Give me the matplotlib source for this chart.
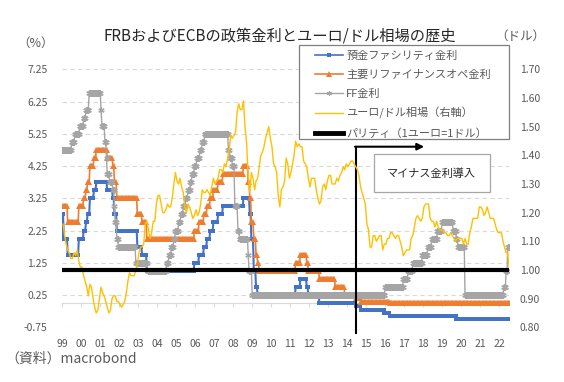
import numpy as np
import pandas as pd
import matplotlib
matplotlib.use("Agg")
import matplotlib.pyplot as plt
from matplotlib.lines import Line2D
from matplotlib.patches import Rectangle

plt.rcParams['font.family'] = ['Noto Sans CJK JP', 'DejaVu Sans']

# ECB deposit facility rate (%), change dates
dep_dates = ['1999-01-01', '1999-01-04', '1999-01-22', '1999-04-09', '1999-11-05',
             '2000-02-04', '2000-03-17', '2000-04-28', '2000-06-09', '2000-09-01', '2000-10-06',
             '2001-05-11', '2001-08-31', '2001-09-18', '2001-11-09', '2002-12-06',
             '2003-03-07', '2003-06-06', '2005-12-06', '2006-03-08', '2006-06-15',
             '2006-08-09', '2006-10-11', '2006-12-13', '2007-03-14', '2007-06-13',
             '2008-07-09', '2008-10-08', '2008-10-09', '2008-11-12', '2008-12-10',
             '2009-01-21', '2009-03-11', '2009-04-08', '2011-04-13', '2011-07-13',
             '2011-11-09', '2011-12-14', '2012-07-11', '2014-06-11', '2014-09-10',
             '2015-12-09', '2016-03-16', '2019-09-18']
dep_rates = [2.00, 2.75, 2.00, 1.50, 2.00,
             2.25, 2.50, 2.75, 3.25, 3.50, 3.75,
             3.50, 3.25, 2.75, 2.25, 1.75,
             1.50, 1.00, 1.25, 1.50, 1.75,
             2.00, 2.25, 2.50, 2.75, 3.00,
             3.25, 2.75, 3.25, 2.75, 2.00,
             1.00, 0.50, 0.25, 0.50, 0.75,
             0.50, 0.25, 0.00, -0.10, -0.20,
             -0.30, -0.40, -0.50]

# ECB main refinancing operations rate (%)
mro_dates = ['1999-01-01', '1999-04-09', '1999-11-05',
             '2000-02-04', '2000-03-17', '2000-04-28', '2000-06-09', '2000-09-01', '2000-10-06',
             '2001-05-11', '2001-08-31', '2001-09-18', '2001-11-09', '2002-12-06',
             '2003-03-07', '2003-06-06', '2005-12-06', '2006-03-08', '2006-06-15',
             '2006-08-09', '2006-10-11', '2006-12-13', '2007-03-14', '2007-06-13',
             '2008-07-09', '2008-10-15', '2008-11-12', '2008-12-10', '2009-01-21',
             '2009-03-11', '2009-04-08', '2009-05-13', '2011-04-13', '2011-07-13',
             '2011-11-09', '2011-12-14', '2012-07-11', '2013-05-08', '2013-11-13',
             '2014-06-11', '2014-09-10', '2016-03-16']
mro_rates = [3.00, 2.50, 3.00,
             3.25, 3.50, 3.75, 4.25, 4.50, 4.75,
             4.50, 4.25, 3.75, 3.25, 2.75,
             2.50, 2.00, 2.25, 2.50, 2.75,
             3.00, 3.25, 3.50, 3.75, 4.00,
             4.25, 3.75, 3.25, 2.50, 2.00,
             1.50, 1.25, 1.00, 1.25, 1.50,
             1.25, 1.00, 0.75, 0.50, 0.25,
             0.15, 0.05, 0.00]

# FF target rate, upper bound (%)
ff_dates = ['1999-01-01', '1999-06-30', '1999-08-24', '1999-11-16', '2000-02-02',
            '2000-03-21', '2000-05-16', '2001-01-03', '2001-01-31', '2001-03-20',
            '2001-04-18', '2001-05-15', '2001-06-27', '2001-08-21', '2001-09-17',
            '2001-10-02', '2001-11-06', '2001-12-11', '2002-11-06', '2003-06-25',
            '2004-06-30', '2004-08-10', '2004-09-21', '2004-11-10', '2004-12-14',
            '2005-02-02', '2005-03-22', '2005-05-03', '2005-06-30', '2005-08-09',
            '2005-09-20', '2005-11-01', '2005-12-13', '2006-01-31', '2006-03-28',
            '2006-05-10', '2006-06-29', '2007-09-18', '2007-10-31', '2007-12-11',
            '2008-01-22', '2008-01-30', '2008-03-18', '2008-04-30', '2008-10-08',
            '2008-10-29', '2008-12-16', '2015-12-16', '2016-12-14', '2017-03-15',
            '2017-06-14', '2017-12-13', '2018-03-21', '2018-06-13', '2018-09-26',
            '2018-12-19', '2019-07-31', '2019-09-18', '2019-10-30', '2020-03-03',
            '2020-03-15', '2022-03-16', '2022-05-04', '2022-06-15']
ff_rates = [4.75, 5.00, 5.25, 5.50, 5.75,
            6.00, 6.50, 6.00, 5.50, 5.00,
            4.50, 4.00, 3.75, 3.50, 3.00,
            2.50, 2.00, 1.75, 1.25, 1.00,
            1.25, 1.50, 1.75, 2.00, 2.25,
            2.50, 2.75, 3.00, 3.25, 3.50,
            3.75, 4.00, 4.25, 4.50, 4.75,
            5.00, 5.25, 4.75, 4.50, 4.25,
            3.50, 3.00, 2.25, 2.00, 1.50,
            1.00, 0.25, 0.50, 0.75, 1.00,
            1.25, 1.50, 1.75, 2.00, 2.25,
            2.50, 2.25, 2.00, 1.75, 1.25,
            0.25, 0.50, 1.00, 1.75]

# EUR/USD, monthly (Jan 1999 - Jul 2022)
eurusd = [
    1.16, 1.12, 1.09, 1.07, 1.06, 1.04, 1.04, 1.06, 1.05, 1.07, 1.03, 1.01,
    1.01, 0.98, 0.96, 0.94, 0.91, 0.95, 0.94, 0.90, 0.87, 0.85, 0.86, 0.90,
    0.94, 0.92, 0.91, 0.89, 0.87, 0.85, 0.86, 0.90, 0.91, 0.91, 0.89, 0.89,
    0.88, 0.87, 0.88, 0.89, 0.92, 0.96, 0.99, 0.98, 0.98, 0.98, 1.00, 1.02,
    1.06, 1.08, 1.08, 1.09, 1.16, 1.17, 1.14, 1.11, 1.13, 1.17, 1.17, 1.23,
    1.26, 1.26, 1.23, 1.20, 1.20, 1.21, 1.23, 1.22, 1.22, 1.25, 1.30, 1.34,
    1.31, 1.30, 1.32, 1.29, 1.27, 1.22, 1.20, 1.23, 1.22, 1.20, 1.18, 1.19,
    1.21, 1.19, 1.20, 1.23, 1.28, 1.27, 1.27, 1.28, 1.27, 1.26, 1.29, 1.32,
    1.30, 1.31, 1.32, 1.35, 1.35, 1.34, 1.37, 1.36, 1.39, 1.42, 1.47, 1.46,
    1.47, 1.48, 1.55, 1.58, 1.56, 1.56, 1.59, 1.50, 1.44, 1.33, 1.27, 1.34,
    1.32, 1.28, 1.31, 1.32, 1.36, 1.40, 1.41, 1.43, 1.46, 1.48, 1.50, 1.46,
    1.43, 1.37, 1.36, 1.34, 1.26, 1.22, 1.28, 1.29, 1.31, 1.39, 1.37, 1.32,
    1.34, 1.37, 1.40, 1.45, 1.43, 1.44, 1.43, 1.43, 1.38, 1.37, 1.36, 1.32,
    1.29, 1.32, 1.32, 1.32, 1.28, 1.25, 1.23, 1.24, 1.29, 1.30, 1.28, 1.31,
    1.33, 1.33, 1.30, 1.30, 1.30, 1.32, 1.31, 1.33, 1.34, 1.36, 1.35, 1.37,
    1.36, 1.37, 1.38, 1.38, 1.37, 1.36, 1.35, 1.33, 1.29, 1.27, 1.25, 1.23,
    1.16, 1.14, 1.08, 1.08, 1.12, 1.12, 1.10, 1.11, 1.12, 1.12, 1.07, 1.09,
    1.09, 1.11, 1.11, 1.13, 1.13, 1.12, 1.11, 1.12, 1.12, 1.10, 1.08, 1.05,
    1.06, 1.07, 1.07, 1.07, 1.11, 1.12, 1.15, 1.18, 1.19, 1.18, 1.17, 1.18,
    1.22, 1.23, 1.23, 1.23, 1.18, 1.17, 1.17, 1.15, 1.17, 1.15, 1.14, 1.14,
    1.14, 1.13, 1.13, 1.12, 1.12, 1.13, 1.12, 1.11, 1.10, 1.11, 1.11, 1.11,
    1.11, 1.09, 1.11, 1.09, 1.09, 1.13, 1.15, 1.18, 1.18, 1.18, 1.18, 1.22,
    1.22, 1.21, 1.19, 1.20, 1.22, 1.20, 1.18, 1.18, 1.18, 1.16, 1.14, 1.13,
    1.13, 1.13, 1.10, 1.08, 1.06, 1.06, 1.00,
]
parity = 1.00

years = list(range(1999, 2023))
year_labels = ['%02d' % (y % 100) for y in years]
left_ticks = [7.25, 6.25, 5.25, 4.25, 3.25, 2.25, 1.25, 0.25, -0.75]
right_ticks = [1.70, 1.60, 1.50, 1.40, 1.30, 1.20, 1.10, 1.00, 0.90, 0.80]

start, end = '1999-01-01', '2022-07-15'


def to_year(idx):
    idx = pd.DatetimeIndex(idx)
    days = np.where(idx.is_leap_year, 366.0, 365.0)
    return idx.year + (idx.dayofyear - 1) / days


def stepped(dates, rates):
    s = pd.Series(rates, index=pd.to_datetime(dates))
    grid = pd.date_range(start, end, freq='SMS')
    v = s.reindex(s.index.union(grid)).ffill().reindex(grid)
    return to_year(grid), v.values


W, H = 564, 382
fig = plt.figure(figsize=(W / 100, H / 100), dpi=100)
ax = fig.add_axes([62.3 / W, 1 - 327.3 / H, 447 / W, 258 / H])
ax2 = ax.twinx()

xd, yd = stepped(dep_dates, dep_rates)
xm, ym = stepped(mro_dates, mro_rates)
xf, yf = stepped(ff_dates, ff_rates)
xe = to_year(pd.date_range('1999-01-01', periods=len(eurusd), freq='MS') + pd.Timedelta(days=14))

blue, orange, gray, gold = '#4472C4', '#ED7D31', '#A5A5A5', '#FFC000'
l1, = ax.plot(xd, yd, color=blue, lw=1.5, marker='s', ms=2.2, mew=0, zorder=2)
l2, = ax.plot(xm, ym, color=orange, lw=1.2, marker='^', ms=4.5, mew=0, zorder=3)
l3, = ax.plot(xf, yf, color=gray, lw=1.0, marker=(6, 2, 0), ms=4.5, mew=0.9, zorder=4)
l4, = ax2.plot(xe, eurusd, color=gold, lw=1.0, zorder=2)
l5 = ax2.axhline(parity, color='black', lw=3, zorder=3)

x0, x1 = to_year([start])[0], to_year([end])[0]
ax.set_xlim(x0, x1)
ax.set_ylim(-0.75, 7.25)
ax2.set_ylim(0.80, 1.70)

for a in (ax, ax2):
    for sp in a.spines.values():
        sp.set_visible(False)

ax.set_yticks(left_ticks)
ax.set_yticklabels(['%.2f' % v for v in left_ticks])
ax.get_yticklabels()[-1].set_color('#FF0000')
ax.tick_params(axis='y', length=0, pad=10.5, labelsize=7.5, labelcolor='#595959')
ax.set_xticks(years)
ax.set_xticklabels(year_labels)
ax.tick_params(axis='x', length=0, pad=8.5, labelsize=7.5, labelcolor='#595959')
ax2.set_yticks(right_ticks)
ax2.set_yticklabels(['%.2f' % v for v in right_ticks])
ax2.tick_params(axis='y', length=0, pad=7.5, labelsize=7.5, labelcolor='#595959')

ax.grid(axis='y', color='#D9D9D9', linestyle=(0, (4, 3)), lw=0.8)
ax.set_axisbelow(True)

# axis line at 0 with year ticks
sec = ax.secondary_xaxis(0.75 / 8)
sec.set_xticks(years)
sec.tick_params(length=3, color='#D9D9D9', labelbottom=False)
sec.spines['bottom'].set_color('#D9D9D9')

# negative rate arrow
neg_x = to_year(['2014-06-11'])[0]
ax.plot([neg_x, neg_x], [-0.93, 4.85], color='black', lw=1.5, clip_on=False, zorder=6)
ax.annotate('', xy=(2018.05, 4.85), xytext=(neg_x - 0.03, 4.85),
            arrowprops=dict(arrowstyle='-|>', color='black', lw=1.5, mutation_scale=10,
                            shrinkA=0, shrinkB=0), zorder=6)
ax.text(2018.45, 4.03, 'マイナス金利導入', ha='center', va='center', fontsize=8,
        color='#262626', zorder=7,
        bbox=dict(boxstyle='square,pad=1.2', fc='white', ec='#A6A6A6', lw=0.9))

# legend
fig.add_artist(Rectangle((299.3 / W, 1 - 139 / H), 209.4 / W, 94 / H, transform=fig.transFigure,
                         fc='white', ec='#7F7F7F', lw=0.9, zorder=3))
h1 = Line2D([], [], color=blue, lw=1.2, marker='s', ms=2.2, mew=0)
h2 = Line2D([], [], color=orange, lw=1.2, marker='^', ms=4, mew=0)
h3 = Line2D([], [], color=gray, lw=1.0, marker=(6, 2, 0), ms=3.5, mew=0.8)
h4 = Line2D([], [], color=gold, lw=1.0)
h5 = Line2D([], [], color='black', lw=3.5)
labels = ['預金ファシリティ金利', '主要リファイナンスオペ金利', 'FF金利',
          'ユーロ/ドル相場（右軸）', 'パリティ（1ユーロ=1ドル）']
leg = fig.legend([h1, h2, h3, h4, h5], labels, loc='upper left',
                 bbox_to_anchor=(315 / W, 1 - 50.5 / H), frameon=False, borderpad=0,
                 borderaxespad=0, handlelength=2.5, handletextpad=0.3,
                 labelspacing=0.78, fontsize=8)
for t in leg.get_texts():
    t.set_color('#595959')
leg.set_zorder(5)

fig.text(279.5 / W, 1 - 36 / H, 'FRBおよびECBの政策金利とユーロ/ドル相場の歴史',
         ha='center', va='center', fontsize=11, color='#262626')
fig.text(36 / W, 1 - 43 / H, '（%）', ha='center', va='center', fontsize=9, color='#595959')
fig.text(520 / W, 1 - 36 / H, '（ドル）', ha='center', va='center', fontsize=9, color='#595959')
fig.text(5 / W, 1 - 359 / H, '（資料）macrobond', ha='left', va='center', fontsize=10,
         color='#595959')

fig.savefig('out.png', dpi=100)
